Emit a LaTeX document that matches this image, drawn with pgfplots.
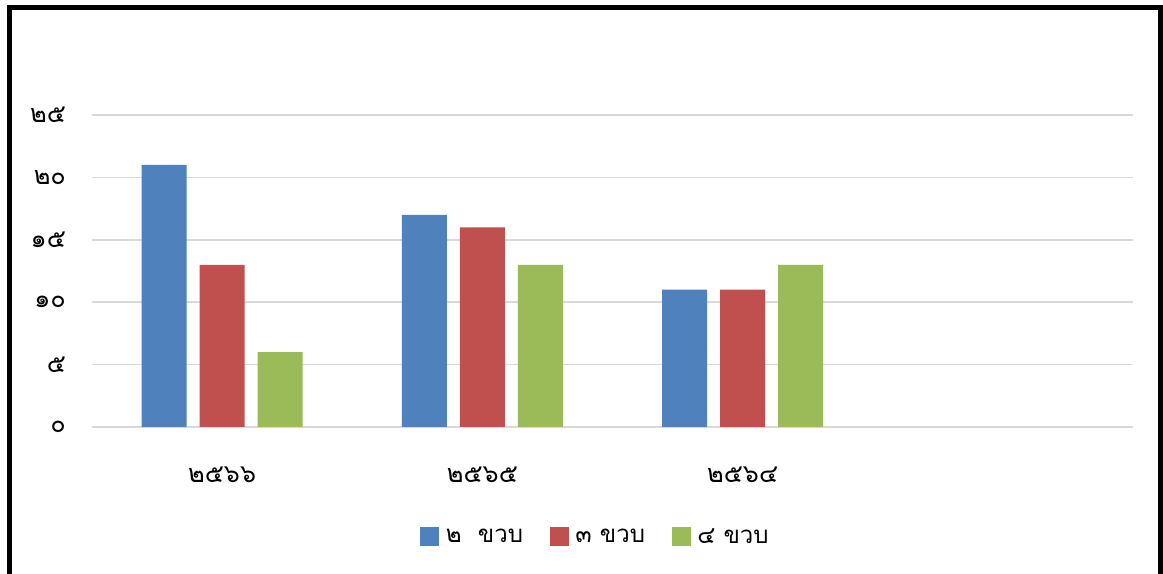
\documentclass[border=0pt]{standalone}
\usepackage{fontspec}
\setmainfont[Script=Thai]{Loma}
\usepackage{pgfplots}
\pgfplotsset{compat=1.18}

\definecolor{barblue}{RGB}{79,129,189}
\definecolor{barred}{RGB}{192,80,77}
\definecolor{bargreen}{RGB}{155,187,89}
\definecolor{gridgray}{RGB}{217,217,217}

\begin{document}
\begin{tikzpicture}[x=0.75pt,y=0.75pt]
\useasboundingbox (0,0) rectangle (1163,574);
\fill[white] (0,0) rectangle (1163,574);
\draw[line width=3.3pt] (9.5,0) -- (9.5,566.5) -- (1160.5,566.5) -- (1160.5,0);

\begin{axis}[
  at={(69pt,110.25pt)}, anchor=south west,
  scale only axis,
  width=780.75pt, height=234pt,
  ybar=9.75pt, bar width=33.75pt,
  xmin=-0.5, xmax=3.5,
  ymin=0, ymax=25,
  xtick={0,1,2},
  xticklabels={๒๕๖๖,๒๕๖๕,๒๕๖๔},
  ytick={0,5,10,15,20,25},
  yticklabels={๐,๕,๑๐,๑๕,๒๐,๒๕},
  axis line style={draw=none},
  major tick style={draw=none},
  ymajorgrids,
  y grid style={gridgray, line width=1.2pt},
  tick label style={font=\fontsize{19}{22}\selectfont},
  yticklabel style={xshift=-16pt},
  xticklabel style={yshift=-22pt},
  legend style={at={(0.484,-0.353)}, anchor=center, draw=none,
    legend columns=3, font=\fontsize{18}{21}\selectfont,
    /tikz/every even column/.append style={column sep=18pt}},
  legend image code/.code={\fill[#1] (0pt,-7pt) rectangle (14.25pt,7.25pt);},
  legend style={/tikz/every odd column/.append style={column sep=0pt}},
]
\addplot[fill=barblue, draw=none] coordinates {(0,21) (1,17) (2,11)};
\addplot[fill=barred, draw=none] coordinates {(0,13) (1,16) (2,11)};
\addplot[fill=bargreen, draw=none] coordinates {(0,6) (1,13) (2,13)};
\legend{\hspace{3pt}๒\ \ ขวบ,\hspace{3pt}๓ ขวบ,\hspace{3pt}๔ ขวบ}
\end{axis}
\end{tikzpicture}
\end{document}
